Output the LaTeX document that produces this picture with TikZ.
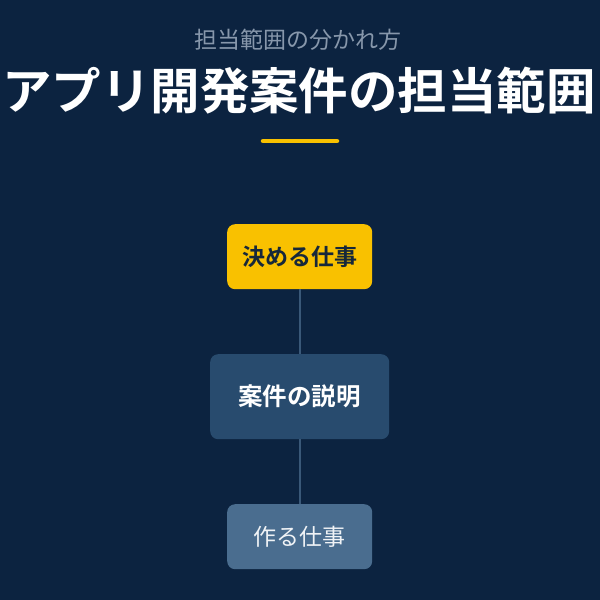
\documentclass[tikz,border=0pt]{standalone}
\usepackage{fontspec}
\setmainfont{Noto Sans CJK JP}
\newfontfamily\jpbold{Noto Sans CJK JP Bold}
\definecolor{bg}{HTML}{0C2340}
\definecolor{gold}{HTML}{F9C100}
\definecolor{midbox}{HTML}{284B6E}
\definecolor{lowbox}{HTML}{4A6D8F}
\definecolor{subgray}{HTML}{8797AB}
\definecolor{darktext}{HTML}{17283A}
\definecolor{linecol}{HTML}{3A5878}
\begin{document}
\begin{tikzpicture}[x=1pt,y=-1pt,
  boxbase/.style={rounded corners=8pt, inner sep=0pt, anchor=north west},
  conn/.style={draw=linecol, line width=1.8pt}]
\useasboundingbox (0,0) rectangle (600,600);
\fill[bg] (0,0) rectangle (600,600);
\node[text=subgray, font=\fontsize{23}{26}\selectfont] (sub) at (298,40) {担当範囲の分かれ方};
\node[text=white, font=\jpbold\fontsize{49.5}{56}\selectfont] (title) at (299,91) {アプリ開発案件の担当範囲};
\draw[gold, line width=4.5pt, line cap=round] (263,141) coordinate (ul1) -- (337,141) coordinate (ul2);
\node[boxbase, fill=gold, minimum width=145pt, minimum height=65pt] (b1) at (227,224) {};
\node[text=darktext, font=\jpbold\fontsize{23}{26}\selectfont] (t1) at (b1.center) {決める仕事};
\node[boxbase, fill=midbox, minimum width=179pt, minimum height=85pt] (b2) at (210,354) {};
\node[text=white, font=\jpbold\fontsize{24.5}{28}\selectfont] (t2) at (b2.center) {案件の説明};
\node[boxbase, fill=lowbox, minimum width=145pt, minimum height=65pt] (b3) at (227,504) {};
\node[text=white!92!lowbox, font=\fontsize{23}{26}\selectfont] (t3) at (b3.center) {作る仕事};
\draw[conn] (b1.south) -- (b2.north);
\draw[conn] (b2.south) -- (b3.north);
\end{tikzpicture}
\end{document}
